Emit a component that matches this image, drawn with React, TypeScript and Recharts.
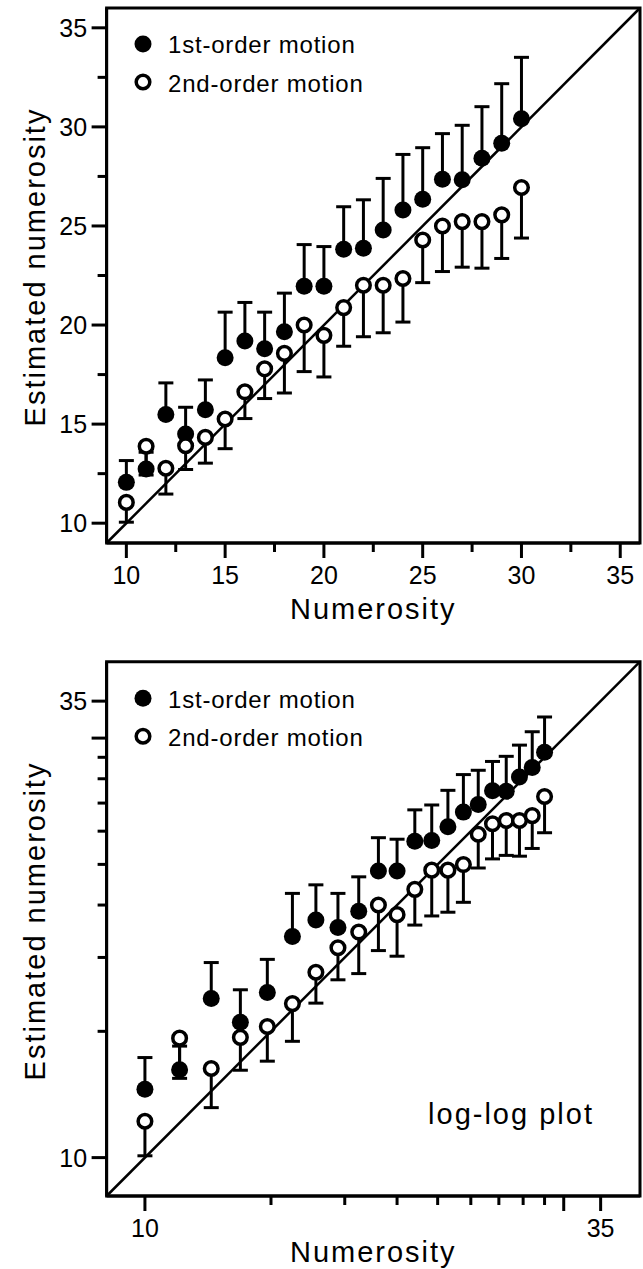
import React from 'react';
import {
  ScatterChart,
  Scatter,
  XAxis,
  YAxis,
  ErrorBar,
  ReferenceLine,
  ReferenceArea,
  Legend,
} from 'recharts';

// ---- data ----
const numerosity = [10, 11, 12, 13, 14, 15, 16, 17, 18, 19, 20, 21, 22, 23, 24, 25, 26, 27, 28, 29, 30];
const firstOrderMean = [12.06, 12.73, 15.48, 14.5, 15.73, 18.35, 19.19, 18.8, 19.66, 21.96, 21.96, 23.82, 23.87, 24.8, 25.81, 26.35, 27.36, 27.33, 28.42, 29.18, 30.41];
const firstOrderErr = [1.1, 0.85, 1.6, 1.35, 1.5, 2.3, 1.95, 1.85, 1.95, 2.1, 2.0, 2.15, 2.45, 2.6, 2.8, 2.6, 2.3, 2.75, 2.6, 3.0, 3.1];
const secondOrderMean = [11.05, 13.88, 12.77, 13.91, 14.33, 15.26, 16.63, 17.79, 18.57, 20.0, 19.48, 20.88, 22.01, 22.01, 22.35, 24.29, 25.0, 25.22, 25.22, 25.56, 26.94];
const secondOrderErr = [1.0, 1.45, 1.3, 1.2, 1.3, 1.5, 1.35, 1.5, 2.0, 2.35, 2.1, 1.95, 2.6, 2.4, 2.2, 2.15, 2.3, 2.3, 2.35, 2.2, 2.55];

// ---- ticks ----
const linearTicks = [10, 12.5, 15, 17.5, 20, 22.5, 25, 27.5, 30, 32.5, 35];
const linearMajor = [10, 15, 20, 25, 30, 35];
const linearLabeled = [10, 15, 20, 25, 30, 35];
const logTicks = [10, 14.142, 17.321, 20, 22.361, 24.495, 26.458, 28.284, 30, 31.623, 35];
const logMajor = [10, 31.623, 35];
const logLabeled = [10, 35];

const legendLabels = ['1st-order motion', '2nd-order motion'];
const FONT = '"Liberation Sans", Arial, Helvetica, sans-serif';

const firstData = numerosity.map((n, i) => ({ x: n, y: firstOrderMean[i], err: [0, firstOrderErr[i]] }));
const secondData = numerosity.map((n, i) => ({ x: n, y: secondOrderMean[i], err: [secondOrderErr[i], 0] }));

const makeXTick = (major: number[], labeled: number[]) => (props: any) => {
  const { x, y, payload } = props;
  const v = payload.value;
  const isMajor = major.includes(v);
  return (
    <g>
      <line x1={x} y1={y} x2={x} y2={y + (isMajor ? 15 : 9)} stroke="#000" strokeWidth={3} />
      {labeled.includes(v) && (
        <text x={x} y={y + 41} textAnchor="middle" fontSize={25} fill="#000" style={{ fontFamily: FONT }}>
          {v}
        </text>
      )}
    </g>
  );
};

const makeYTick = (major: number[], labeled: number[]) => (props: any) => {
  const { x, y, payload } = props;
  const v = payload.value;
  const isMajor = major.includes(v);
  return (
    <g>
      <line x1={x - (isMajor ? 15 : 9)} y1={y} x2={x} y2={y} stroke="#000" strokeWidth={3} />
      {labeled.includes(v) && (
        <text x={x - 19.5} y={y + 9} textAnchor="end" fontSize={25} fill="#000" style={{ fontFamily: FONT }}>
          {v}
        </text>
      )}
    </g>
  );
};

const FilledDot = (props: any) => <circle cx={props.cx} cy={props.cy} r={8.5} fill="#000" />;
const OpenDot = (props: any) => (
  <circle cx={props.cx} cy={props.cy} r={6.8} fill="#fff" stroke="#000" strokeWidth={3.5} />
);

const LegendBox = ({ top, extra }: { top: number; extra?: React.ReactNode }) => (
  <svg width={643} height={640} style={{ display: 'block', overflow: 'visible' }}>
    <circle cx={143} cy={top} r={8.5} fill="#000" />
    <text x={168} y={top + 9.3} fontSize={24} letterSpacing={0.8} fill="#000" style={{ fontFamily: FONT }}>
      {legendLabels[0]}
    </text>
    <circle cx={143} cy={top + 38} r={6.8} fill="#fff" stroke="#000" strokeWidth={3.5} />
    <text x={168} y={top + 47.5} fontSize={24} letterSpacing={0.8} fill="#000" style={{ fontFamily: FONT }}>
      {legendLabels[1]}
    </text>
    {extra}
  </svg>
);

const yLabel = (cy: number) => () => (
  <text
    x={45}
    y={cy}
    transform={`rotate(-90, 45, ${cy})`}
    textAnchor="middle"
    fontSize={29}
    letterSpacing={2}
    fill="#000"
    style={{ fontFamily: FONT }}
  >
    Estimated numerosity
  </text>
);

const xLabel = (cx: number, by: number) => () => (
  <text x={cx} y={by} textAnchor="middle" fontSize={29} letterSpacing={2} fill="#000" style={{ fontFamily: FONT }}>
    Numerosity
  </text>
);

export default function App() {
  return (
    <div style={{ position: 'absolute', left: 0, top: 0, width: 643, height: 1269, background: '#fff' }}>
      {/* Linear plot */}
      <ScatterChart width={643} height={630} margin={{ top: 8, right: 3, bottom: 0, left: 0 }}>
        <XAxis
          type="number"
          dataKey="x"
          domain={[9, 36]}
          allowDataOverflow
          ticks={linearTicks}
          interval={0}
          tickSize={0}
          tickMargin={0}
          tickLine={false}
          tick={makeXTick(linearMajor, linearLabeled)}
          axisLine={{ stroke: '#000', strokeWidth: 3 }}
          height={87}
          label={{ content: xLabel(373.3, 618.5) }}
        />
        <YAxis
          type="number"
          dataKey="y"
          domain={[9, 36]}
          allowDataOverflow
          ticks={linearTicks}
          interval={0}
          tickSize={0}
          tickMargin={0}
          tickLine={false}
          tick={makeYTick(linearMajor, linearLabeled)}
          axisLine={{ stroke: '#000', strokeWidth: 3 }}
          width={106.6}
          label={{ content: yLabel(267) }}
        />
        <ReferenceArea x1={9} x2={36} y1={9} y2={36} fill="none" stroke="#000" strokeWidth={3} ifOverflow="visible" />
        <ReferenceLine segment={[{ x: 9, y: 9 }, { x: 36, y: 36 }]} stroke="#000" strokeWidth={2.5} ifOverflow="visible" />
        <Scatter data={firstData} shape={FilledDot} isAnimationActive={false} name={legendLabels[0]}>
          <ErrorBar dataKey="err" direction="y" width={7.5} strokeWidth={3} stroke="#000" />
        </Scatter>
        <Scatter data={secondData} shape={OpenDot} isAnimationActive={false} name={legendLabels[1]}>
          <ErrorBar dataKey="err" direction="y" width={7.5} strokeWidth={3} stroke="#000" />
        </Scatter>
        <Legend
          layout="horizontal"
          verticalAlign="middle"
          align="center"
          wrapperStyle={{ left: 0, top: 0, width: 643, height: 1, pointerEvents: 'none' }}
          content={() => <LegendBox top={44} />}
        />
      </ScatterChart>

      {/* Log-log plot */}
      <ScatterChart width={643} height={639} margin={{ top: 31.7, right: 3, bottom: 0, left: 0 }}>
        <XAxis
          type="number"
          dataKey="x"
          scale="log"
          domain={[9, 39]}
          allowDataOverflow
          ticks={logTicks}
          interval={0}
          tickSize={0}
          tickMargin={0}
          tickLine={false}
          tick={makeXTick(logMajor, logLabeled)}
          axisLine={{ stroke: '#000', strokeWidth: 3 }}
          height={73}
          label={{ content: xLabel(373.3, 631.7) }}
        />
        <YAxis
          type="number"
          dataKey="y"
          scale="log"
          domain={[9, 39]}
          allowDataOverflow
          ticks={logTicks}
          interval={0}
          tickSize={0}
          tickMargin={0}
          tickLine={false}
          tick={makeYTick(logMajor, logLabeled)}
          axisLine={{ stroke: '#000', strokeWidth: 3 }}
          width={106.6}
          label={{ content: yLabel(291) }}
        />
        <ReferenceArea x1={9} x2={39} y1={9} y2={39} fill="none" stroke="#000" strokeWidth={3} ifOverflow="visible" />
        <ReferenceLine segment={[{ x: 9, y: 9 }, { x: 39, y: 39 }]} stroke="#000" strokeWidth={2.5} ifOverflow="visible" />
        <Scatter data={firstData} shape={FilledDot} isAnimationActive={false} name={legendLabels[0]}>
          <ErrorBar dataKey="err" direction="y" width={7.5} strokeWidth={3} stroke="#000" />
        </Scatter>
        <Scatter data={secondData} shape={OpenDot} isAnimationActive={false} name={legendLabels[1]}>
          <ErrorBar dataKey="err" direction="y" width={7.5} strokeWidth={3} stroke="#000" />
        </Scatter>
        <Legend
          layout="horizontal"
          verticalAlign="middle"
          align="center"
          wrapperStyle={{ left: 0, top: 0, width: 643, height: 1, pointerEvents: 'none' }}
          content={() => (
            <LegendBox
              top={68.3}
              extra={
                <text x={511} y={494} textAnchor="middle" fontSize={29} letterSpacing={2} fill="#000" style={{ fontFamily: FONT }}>
                  log-log plot
                </text>
              }
            />
          )}
        />
      </ScatterChart>
    </div>
  );
}
